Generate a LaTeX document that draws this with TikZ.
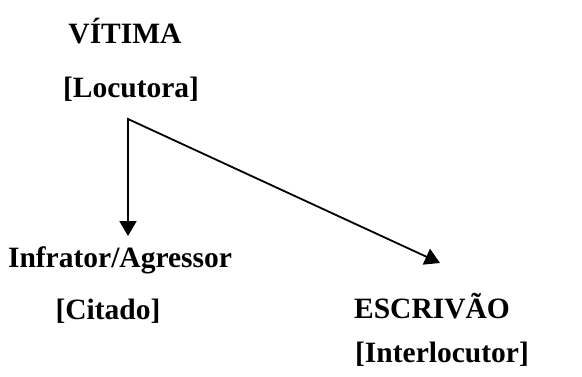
\documentclass[tikz,border=0pt]{standalone}
\usepackage{fontspec}
\setmainfont{Liberation Serif}
\usetikzlibrary{arrows.meta}
\begin{document}
\begin{tikzpicture}[x=1pt,y=-1pt,
    lbl/.style={font=\fontsize{29.5}{35}\selectfont\bfseries,anchor=base,inner sep=0pt},
    tips/.style={{Triangle[width=17pt,length=15pt]}-{Triangle[width=17pt,length=15pt]},line width=1.8pt}]
  \useasboundingbox (0,0) rectangle (582,376);
  % labels
  \node[lbl] (vitima) at (125,43) {VÍTIMA};
  \node[lbl] (locutora) at (131,97) {[Locutora]};
  \node[lbl] (agressor) at (120,267) {Infrator/Agressor};
  \node[lbl] (citado) at (108,319) {[Citado]};
  \node[lbl] (escrivao) at (432,318) {ESCRIVÃO};
  \node[lbl] (interlocutor) at (442,362) {[Interlocutor]};
  % arrows from the split point
  \coordinate (split) at (128,119);
  \coordinate (escrivao tip) at (440,263);
  \draw[tips,shorten <=10pt] (split |- agressor.north) -- (split) -- (escrivao tip);
\end{tikzpicture}
\end{document}
